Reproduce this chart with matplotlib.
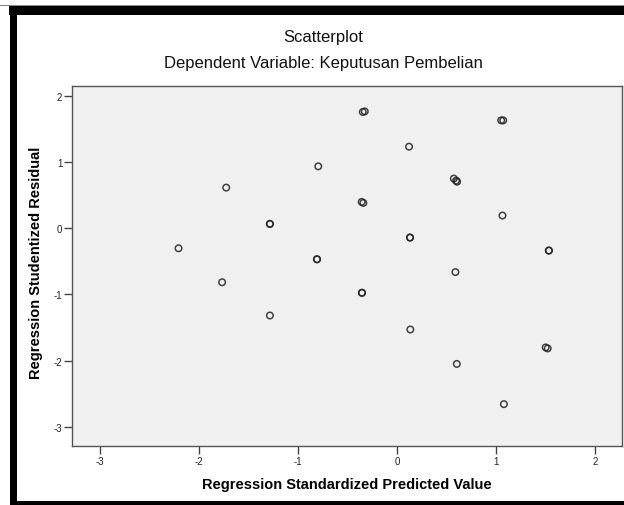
import matplotlib
matplotlib.use("Agg")
import matplotlib.pyplot as plt
from matplotlib.patches import Rectangle

plt.rcParams["font.family"] = ["Liberation Sans", "DejaVu Sans"]
plt.rcParams["axes.unicode_minus"] = False

# Regression diagnostic points
pred = [-2.205, -1.724, -1.765, -1.283, -1.283, -1.283, -0.795, -0.808, -0.808,
        -0.346, -0.326, -0.357, -0.340, -0.354, -0.354, 0.121, 0.131, 0.131,
        0.134, 0.589, 0.603, 0.573, 0.596, 0.606, 1.051, 1.071, 1.064, 1.078,
        1.532, 1.532, 1.500, 1.520]
resid = [-0.305, 0.611, -0.818, 0.063, 0.063, -1.320, 0.932, -0.471, -0.471,
         1.753, 1.762, 0.395, 0.380, -0.977, -0.977, 1.229, -0.143, -0.143,
         -1.531, -0.664, -2.051, 0.747, 0.716, 0.700, 1.626, 1.626, 0.189, -2.658,
         -0.339, -0.339, -1.802, -1.817]

x_ticks = [-3, -2, -1, 0, 1, 2]
y_ticks = [-3, -2, -1, 0, 1, 2]

W, H = 624, 506
fig = plt.figure(figsize=(W / 100, H / 100), dpi=100)
fig.patch.set_facecolor("white")

# axes frame in pixel terms: left 72, right 622, top 87, bottom 447
ax = fig.add_axes([72 / W, 1 - 447 / H, (622 - 72) / W, (447 - 87) / H])
ax.set_facecolor("#f0f0f0")
ax.scatter(pred, resid, s=22, facecolors="none", edgecolors="#222222",
           linewidths=1.1, alpha=0.85, zorder=3)

ax.set_xlim(-3.28, 2.27)
ax.set_ylim(-3.29, 2.145)
ax.set_xticks(x_ticks)
ax.set_yticks(y_ticks)
ax.tick_params(direction="out", length=6, width=1, color="#444444",
               labelsize=7, labelcolor="#222222", pad=1)
ax.tick_params(top=False, right=False)
for sp in ax.spines.values():
    sp.set_color("#555555")
    sp.set_linewidth(1.0)

ax.set_xlabel("Regression Standardized Predicted Value", fontsize=10.5,
              fontweight="bold", labelpad=8)
ax.set_ylabel("Regression Studentized Residual", fontsize=10.5,
              fontweight="bold")
ax.yaxis.set_label_coords(-0.053, 0.5125)

# Titles
fig.text(323 / W, 1 - 37.5 / H, "Scatterplot", ha="center", va="center",
         fontsize=12, color="#111111")
fig.text(323 / W, 1 - 63.5 / H, "Dependent Variable: Keputusan Pembelian",
         ha="center", va="center", fontsize=12, color="#111111")

# black frame bands around the screenshot
fig.add_artist(Rectangle((0, 1 - 7 / H), 1, 1 / H, transform=fig.transFigure,
                         color="#888888", lw=0))
fig.add_artist(Rectangle((9 / W, 1 - 15.5 / H), 1, 8.5 / H,
                         transform=fig.transFigure, color="black", lw=0))
fig.add_artist(Rectangle((10 / W, 0), 7.3 / W, 1 - 7 / H,
                         transform=fig.transFigure, color="black", lw=0))
fig.add_artist(Rectangle((10 / W, 0), 1, 4 / H, transform=fig.transFigure,
                         color="black", lw=0))

fig.savefig("out.png", dpi=100)
